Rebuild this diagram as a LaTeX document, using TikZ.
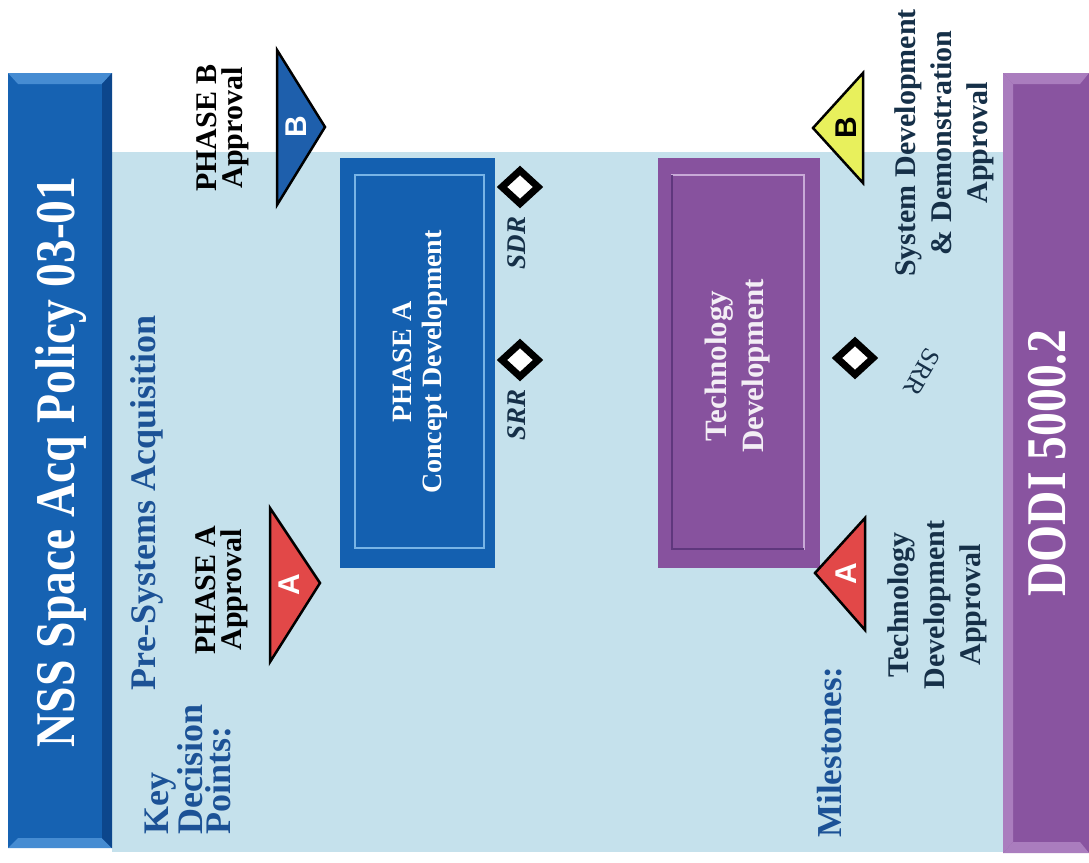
\documentclass[tikz,border=0pt]{standalone}
\usepackage{fontspec}
\setmainfont{Liberation Serif}
\setsansfont{Liberation Sans}
\usetikzlibrary{positioning,shapes.geometric}

\definecolor{nssblue}{RGB}{22,98,178}
\definecolor{nsslight}{RGB}{70,140,210}
\definecolor{nssdark}{RGB}{12,70,140}
\definecolor{skyback}{RGB}{197,225,236}
\definecolor{dodipurple}{RGB}{137,84,160}
\definecolor{dodilight}{RGB}{170,125,190}
\definecolor{dodidark}{RGB}{95,55,125}
\definecolor{boxblue}{RGB}{20,96,176}
\definecolor{boxline}{RGB}{120,180,230}
\definecolor{techpurple}{RGB}{135,82,158}
\definecolor{techline}{RGB}{200,170,215}
\definecolor{kdpred}{RGB}{226,72,72}
\definecolor{kdpblue}{RGB}{30,95,172}
\definecolor{kdpyellow}{RGB}{232,240,92}
\definecolor{labelblue}{RGB}{28,82,150}
\definecolor{labelnavy}{RGB}{22,48,72}

\begin{document}
\begin{tikzpicture}[x=1pt,y=-1pt,
    vtext/.style={rotate=90,align=center,inner sep=0pt},
    bartitle/.style={vtext,text=white,font=\bfseries\fontsize{56}{58}\selectfont},
    phasebox/.style={vtext,text=white,font=\bfseries\fontsize{28}{30}\selectfont},
    kdplabel/.style={vtext,text=black,font=\bfseries\fontsize{30}{26}\selectfont},
    mslabel/.style={vtext,text=labelnavy,font=\bfseries\fontsize{30}{36}\selectfont},
    kdpletter/.style={rotate=90,inner sep=0pt,font=\sffamily\bfseries\fontsize{30}{30}\selectfont},
    tri/.style={draw=black,line width=2.5pt,line join=miter},
    review/.style={diamond,draw=black,fill=white,line width=7pt,
      minimum width=39pt,minimum height=36pt,inner sep=0pt},
    revlabel/.style={vtext,text=labelnavy,font=\bfseries\itshape\fontsize{27}{27}\selectfont}]
  \useasboundingbox (0,0) rectangle (1089,862);
  \fill[white] (0,0) rectangle (1089,862);

  % background band
  \fill[skyback] (112,152) rectangle (1003,852);

  % NSS bar
  \fill[nssblue] (8,73) rectangle (112,848);
  \fill[nsslight] (8,73) -- (112,73) -- (102,84) -- (18,84) -- cycle;
  \fill[nsslight] (8,848) -- (112,848) -- (102,838) -- (18,838) -- cycle;
  \fill[nssdark] (102,84) -- (112,73) -- (112,848) -- (102,838) -- cycle;
  \node[bartitle] (nss) at (61,462) {\scalebox{0.85}[1]{NSS Space Acq Policy 03-01}};

  % DODI bar
  \fill[dodipurple] (1003,73) rectangle (1089,853);
  \fill[dodilight] (1003,73) -- (1089,73) -- (1080,84) -- (1013,84) -- cycle;
  \fill[dodilight] (1003,853) -- (1089,853) -- (1080,842) -- (1013,842) -- cycle;
  \fill[dodilight] (1003,73) -- (1013,84) -- (1013,842) -- (1003,853) -- cycle;
  \node[bartitle] (dodi) at (1047,463) {\scalebox{0.85}[1]{DODI 5000.2}};

  % headings
  \node[vtext,text=labelblue,font=\bfseries\fontsize{36}{40}\selectfont] (presys) at (147,503) {Pre-Systems Acquisition};
  \node[vtext,align=left,anchor=north west,text=labelblue,font=\bfseries\fontsize{36}{28}\selectfont] (kdp) at (145,835) {Key\\Decision\\Points:};
  \node[vtext,text=labelblue,font=\bfseries\fontsize{35}{36}\selectfont] (miles) at (830,752) {Milestones:};

  % key decision points
  \filldraw[tri,fill=kdpblue] (277,50) -- (325,127) -- (277,205) -- cycle;
  \node[kdpletter,text=white] (kdpb) at (296,127) {B};
  \node[kdplabel] (kdpblab) at (223,128) {PHASE B\\Approval};
  \filldraw[tri,fill=kdpred] (270,508) -- (320,583) -- (270,662) -- cycle;
  \node[kdpletter,text=white] (kdpa) at (289,585) {A};
  \node[kdplabel] (kdpalab) at (222,590) {PHASE A\\Approval};

  % phase A box
  \fill[boxblue] (340,158) rectangle (495,568);
  \draw[boxline,line width=1.2pt] (355,175) rectangle (484,548);
  \node[phasebox] (phasea) at (420,362) {PHASE A\\Concept Development};

  % reviews
  \node[review] (sdr) at (520,187) {};
  \node[revlabel] (sdrlab) at (517,243) {SDR};
  \node[review] (srra) at (520,360) {};
  \node[revlabel] (srralab) at (517,415) {SRR};

  % technology development box
  \fill[techpurple] (658,158) rectangle (820,568);
  \draw[techline,line width=1.2pt] (672,175) rectangle (804,549);
  \draw[dodidark,line width=1.2pt] (672,175) -- (672,549) -- (804,549);
  \node[phasebox,text=white!90!techpurple,font=\bfseries\fontsize{31}{37}\selectfont] (techdev) at (738,366) {Technology\\Development};

  % milestones
  \filldraw[tri,fill=kdpyellow] (813,128) -- (863,73) -- (863,183) -- cycle;
  \node[kdpletter,text=black] (msb) at (846,128) {B};
  \node[mslabel] (msblab) at (944,143) {System Development\\\& Demonstration\\Approval};
  \filldraw[tri,fill=kdpred] (815,573) -- (865,518) -- (865,630) -- cycle;
  \node[kdpletter,text=white] (msa) at (846,574) {A};
  \node[mslabel] (msalab) at (937,605) {Technology\\Development\\Approval};
  \node[review] (srrb) at (855,358) {};
  \node[revlabel,rotate=150,font=\fontsize{26}{26}\selectfont] (srrblab) at (922,372) {SRR};
\end{tikzpicture}
\end{document}
